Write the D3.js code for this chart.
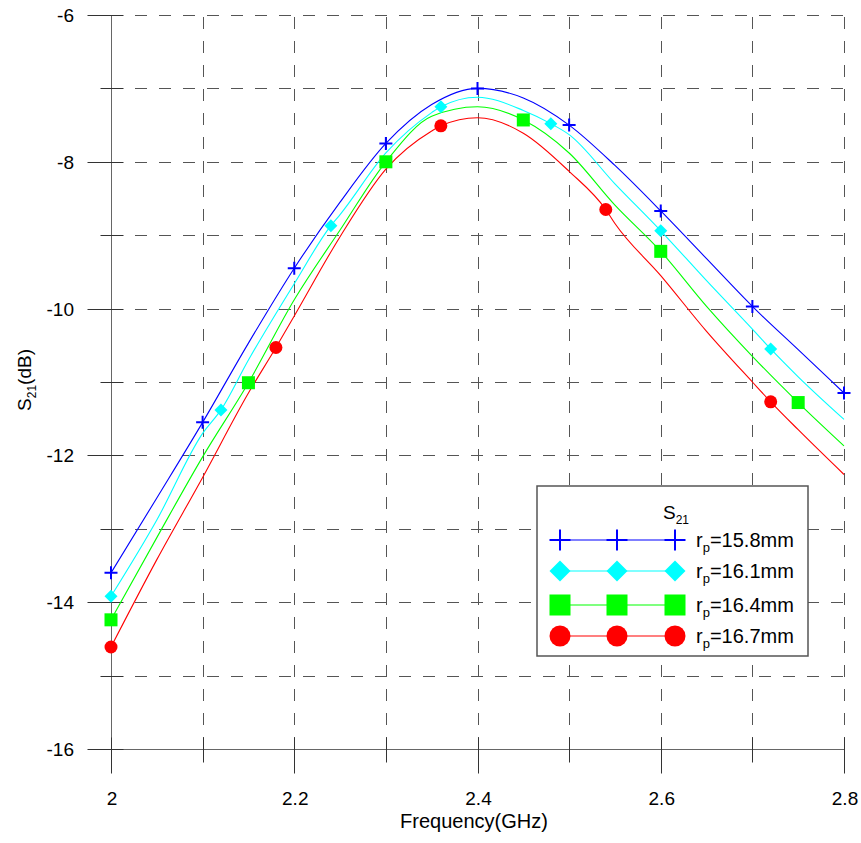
<!DOCTYPE html>
<head>
  <meta charset="utf-8">
  <script src="https://cdn.jsdelivr.net/npm/d3@7"></script>
  <style>
    body { margin: 0; background: #fff; }
    svg text { font-family: "Liberation Sans", Arial, sans-serif; fill: #000; }
    .grid { stroke: #555; stroke-width: 1; stroke-dasharray: 12,12; fill: none; }
    .axis { stroke: #666; stroke-width: 1; fill: none; }
    .tick { stroke: #333; stroke-width: 1; }
  </style>
</head>
<body>
<script>
// frequency samples (GHz) for the simulated curves
var freqs = [2.0, 2.05, 2.1, 2.15, 2.2, 2.25, 2.3, 2.35, 2.4, 2.45, 2.5, 2.55, 2.6, 2.65, 2.7, 2.75, 2.8];

// S21 (dB) per probe radius
var rp158 = [-13.6, -12.58, -11.55, -10.47, -9.45, -8.55, -7.75, -7.22, -7.0, -7.13, -7.5, -8.05, -8.67, -9.32, -9.97, -10.56, -11.15];
var rp161 = [-13.92, -12.88, -11.7, -10.7, -9.66, -8.72, -7.88, -7.33, -7.12, -7.3, -7.63, -8.3, -8.94, -9.62, -10.28, -10.93, -11.51];
var rp164 = [-14.24, -13.12, -12.02, -11.01, -9.88, -8.93, -8.0, -7.38, -7.25, -7.43, -7.88, -8.59, -9.22, -9.97, -10.65, -11.28, -11.87];
var rp167 = [-14.61, -13.42, -12.3, -11.15, -10.1, -9.02, -8.1, -7.58, -7.4, -7.61, -8.13, -8.84, -9.55, -10.31, -11.0, -11.65, -12.26];

// marker positions
var mk158f = [2.0, 2.1, 2.2, 2.3, 2.4, 2.5, 2.6, 2.7, 2.8];
var mk158v = [-13.6, -11.55, -9.45, -7.75, -7.0, -7.5, -8.67, -9.97, -11.15];
var mk161f = [2.0, 2.12, 2.24, 2.36, 2.48, 2.6, 2.72];
var mk161v = [-13.92, -11.38, -8.87, -7.25, -7.48, -8.94, -10.55];
var mk164f = [2.0, 2.15, 2.3, 2.45, 2.6, 2.75];
var mk164v = [-14.24, -11.01, -8.0, -7.43, -9.22, -11.28];
var mk167f = [2.0, 2.18, 2.36, 2.54, 2.72];
var mk167v = [-14.61, -10.53, -7.51, -8.65, -11.27];

var seriesNames = ['15.8mm', '16.1mm', '16.4mm', '16.7mm'];
var seriesColors = ['#0000ff', '#00ffff', '#00ff00', '#ff0000'];
var seriesShapes = ['plus', 'diamond', 'square', 'circle'];

var xTicks = [2, 2.1, 2.2, 2.3, 2.4, 2.5, 2.6, 2.7, 2.8];
var xLabels = ['2', '2.2', '2.4', '2.6', '2.8'];
var yTicks = [-16, -15, -14, -13, -12, -11, -10, -9, -8, -7, -6];
var yLabels = ['-16', '-14', '-12', '-10', '-8', '-6'];

var width = 861, height = 843;

var svg = d3.select('body').append('svg')
  .attr('width', width)
  .attr('height', height);

var x = d3.scaleLinear().domain([2, 2.8]).range([111, 844]);
var y = d3.scaleLinear().domain([-16, -6]).range([749, 15]);

// grid (dashes start at the axes)
svg.selectAll('.hgrid').data(yTicks.slice(1)).enter().append('line')
  .attr('class', 'grid')
  .attr('x1', x(2)).attr('x2', x(2.8))
  .attr('y1', d => Math.round(y(d)) + 0.5).attr('y2', d => Math.round(y(d)) + 0.5);
svg.selectAll('.vgrid').data(xTicks.slice(1)).enter().append('line')
  .attr('class', 'grid')
  .attr('x1', d => Math.round(x(d)) + 0.5).attr('x2', d => Math.round(x(d)) + 0.5)
  .attr('y1', y(-16)).attr('y2', y(-6));

// axes
var x0 = Math.round(x(2)) + 0.5, yb = Math.round(y(-16)) + 0.5;
svg.append('line').attr('class', 'axis')
  .attr('x1', x0).attr('x2', x0).attr('y1', y(-6)).attr('y2', yb);
svg.append('line').attr('class', 'axis')
  .attr('x1', x0).attr('x2', x(2.8) + 1).attr('y1', yb).attr('y2', yb);

// y ticks
svg.selectAll('.ytick').data(yTicks).enter().append('line')
  .attr('class', 'tick')
  .attr('x1', d => yLabels.indexOf(String(d)) >= 0 ? x0 - 24 : x0 - 11)
  .attr('x2', x0 + 12)
  .attr('y1', d => Math.round(y(d)) + 0.5).attr('y2', d => Math.round(y(d)) + 0.5);
// x ticks
svg.selectAll('.xtick').data(xTicks).enter().append('line')
  .attr('class', 'tick')
  .attr('x1', d => Math.round(x(d)) + 0.5).attr('x2', d => Math.round(x(d)) + 0.5)
  .attr('y1', yb - 12)
  .attr('y2', d => xLabels.indexOf(String(d)) >= 0 ? yb + 24 : yb + 13);

svg.selectAll('.ylab').data(yLabels).enter().append('text')
  .attr('x', 74).attr('y', d => y(+d) + 7)
  .attr('text-anchor', 'end')
  .style('font-size', '19px')
  .text(d => d);
svg.selectAll('.xlab').data(xLabels).enter().append('text')
  .attr('x', d => x(+d) + 1).attr('y', 805)
  .attr('text-anchor', 'middle')
  .style('font-size', '19px')
  .text(d => d);

svg.append('text')
  .attr('x', 474).attr('y', 828)
  .attr('text-anchor', 'middle')
  .style('font-size', '20px')
  .text('Frequency(GHz)');

var yt = svg.append('text')
  .attr('transform', 'translate(31,380) rotate(-90)')
  .attr('text-anchor', 'middle')
  .style('font-size', '19px');
yt.append('tspan').text('S');
yt.append('tspan').attr('dy', 5).style('font-size', '12px').text('21');
yt.append('tspan').attr('dy', -5).text('(dB)');

// markers
function drawMarker(g, shape, color, s) {
  var h = s / 2;
  if (shape === 'plus') {
    g.append('path').attr('d', 'M' + (-h) + ',0H' + h + 'M0,' + (-h) + 'V' + h)
      .attr('stroke', color).attr('stroke-width', 2).attr('fill', 'none');
  } else if (shape === 'diamond') {
    g.append('path').attr('d', 'M0,' + (-h) + 'L' + h + ',0L0,' + h + 'L' + (-h) + ',0Z')
      .attr('fill', color);
  } else if (shape === 'square') {
    g.append('rect').attr('x', -h).attr('y', -h).attr('width', s).attr('height', s)
      .attr('fill', color);
  } else {
    g.append('circle').attr('r', h).attr('fill', color);
  }
}

var lineVals = [rp158, rp161, rp164, rp167];
var mkF = [mk158f, mk161f, mk164f, mk167f];
var mkV = [mk158v, mk161v, mk164v, mk167v];

var line = d3.line()
  .x(d => x(d[0])).y(d => y(d[1]))
  .curve(d3.curveMonotoneX);

lineVals.forEach(function(vals, i) {
  var pts = freqs.map((f, j) => [f, vals[j]]);
  mkF[i].forEach(function(f, j) {
    if (freqs.indexOf(f) < 0) pts.push([f, mkV[i][j]]);
  });
  pts.sort((a, b) => a[0] - b[0]);
  svg.append('path')
    .attr('d', line(pts))
    .attr('fill', 'none')
    .attr('stroke', seriesColors[i])
    .attr('stroke-width', 1.1);
});

lineVals.forEach(function(vals, i) {
  mkF[i].forEach(function(f, j) {
    var g = svg.append('g').attr('transform', 'translate(' + x(f) + ',' + y(mkV[i][j]) + ')');
    drawMarker(g, seriesShapes[i], seriesColors[i], 13);
  });
});

// legend
var lg = svg.append('g');
lg.append('rect')
  .attr('x', 537).attr('y', 486).attr('width', 271).attr('height', 170)
  .attr('fill', '#fff').attr('stroke', '#555').attr('stroke-width', 1.5);
var lt = lg.append('text').attr('x', 663).attr('y', 519).style('font-size', '19px');
lt.append('tspan').text('S');
lt.append('tspan').attr('dy', 5).style('font-size', '12px').text('21');

var rowY = [540, 571, 605, 636];
var mx = [560, 617, 675];
seriesNames.forEach(function(name, i) {
  lg.append('line')
    .attr('x1', mx[0]).attr('x2', mx[2])
    .attr('y1', rowY[i]).attr('y2', rowY[i])
    .attr('stroke', seriesColors[i]).attr('stroke-width', 1.1);
  mx.forEach(function(px) {
    var g = lg.append('g').attr('transform', 'translate(' + px + ',' + rowY[i] + ')');
    drawMarker(g, seriesShapes[i], seriesColors[i], 21);
  });
  var t = lg.append('text').attr('x', 696).attr('y', rowY[i] + 7).style('font-size', '20px');
  t.append('tspan').text('r');
  t.append('tspan').attr('dy', 5).style('font-size', '13px').text('p');
  t.append('tspan').attr('dy', -5).text('=' + name);
});
</script>
</body>
